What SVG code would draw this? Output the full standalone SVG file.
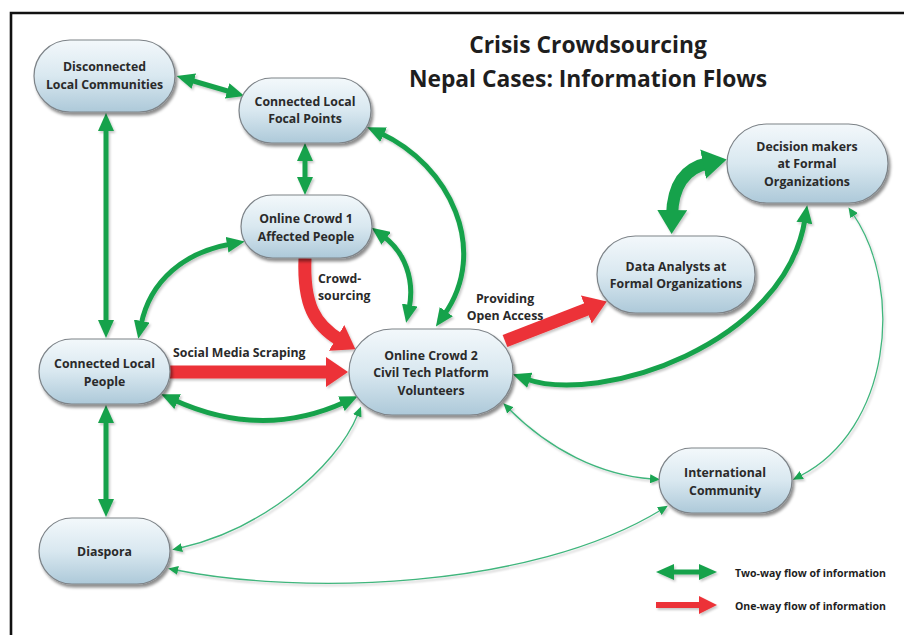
<svg xmlns="http://www.w3.org/2000/svg" width="904" height="635" viewBox="0 0 904 635">
<style>
.node rect{fill:url(#ng);stroke:#7d8388;stroke-width:1.2;filter:url(#sh)}
.node text,.lbl{font-family:"Open Sans","DejaVu Sans",sans-serif;font-weight:bold;font-size:12.3px;fill:#2a2a2a;text-anchor:middle}
.lbl{text-anchor:start}
.title{font-family:"Open Sans","DejaVu Sans",sans-serif;font-weight:bold;font-size:22.8px;fill:#1e1e1e;text-anchor:middle}
.leg{font-family:"Open Sans","DejaVu Sans",sans-serif;font-weight:bold;font-size:10.5px;fill:#1e1e1e}
.g{fill:none;stroke:#17a24c;stroke-width:5;marker-start:url(#gh);marker-end:url(#gh)}
.gb{fill:none;stroke:#17a24c;stroke-width:12;marker-start:url(#gbh);marker-end:url(#gbh)}
.t{fill:none;stroke:#3fb57c;stroke-width:1.3;marker-start:url(#th);marker-end:url(#th)}
.r{fill:none;stroke:#ec3237;stroke-width:13;marker-end:url(#rh)}
#conn{filter:url(#csh)}
</style>
<defs>
<linearGradient id="ng" x1="0" y1="0" x2="0" y2="1">
<stop offset="0" stop-color="#f3f8fb"/>
<stop offset="0.5" stop-color="#d9e8f0"/>
<stop offset="1" stop-color="#adc9d9"/>
</linearGradient>
<filter id="sh" x="-20%" y="-20%" width="140%" height="150%">
<feDropShadow dx="2" dy="3" stdDeviation="1.8" flood-color="#000" flood-opacity="0.45"/>
</filter>
<filter id="csh" x="-10%" y="-10%" width="120%" height="120%">
<feDropShadow dx="1.5" dy="2" stdDeviation="1.2" flood-color="#000" flood-opacity="0.22"/>
</filter>
<marker id="gh" markerUnits="userSpaceOnUse" markerWidth="18" markerHeight="16" refX="4" refY="8" orient="auto-start-reverse" viewBox="0 0 18 16"><path d="M0,0 L18,8 L0,16 z" fill="#17a24c"/></marker>
<marker id="gbh" markerUnits="userSpaceOnUse" markerWidth="24" markerHeight="30" refX="6" refY="15" orient="auto-start-reverse" viewBox="0 0 24 30"><path d="M0,0 L24,15 L0,30 z" fill="#17a24c"/></marker>
<marker id="th" markerUnits="userSpaceOnUse" markerWidth="10" markerHeight="9" refX="2" refY="4.5" orient="auto-start-reverse" viewBox="0 0 10 9"><path d="M0,0 L10,4.5 L0,9 z" fill="#1aa552"/></marker>
<marker id="rh" markerUnits="userSpaceOnUse" markerWidth="22" markerHeight="30" refX="4" refY="15" orient="auto" viewBox="0 0 22 30"><path d="M0,0 L22,15 L0,30 z" fill="#ec3237"/></marker>
<marker id="rsh" markerUnits="userSpaceOnUse" markerWidth="18" markerHeight="18" refX="4" refY="9" orient="auto" viewBox="0 0 18 18"><path d="M0,0 L18,9 L0,18 z" fill="#ec3237"/></marker>
</defs>
<rect width="904" height="635" fill="#fff"/>
<path d="M11,635 L11,13 L904,13" fill="none" stroke="#111" stroke-width="2.6"/>

<text class="title" x="588" y="53">Crisis Crowdsourcing</text>
<text class="title" x="588" y="87">Nepal Cases: Information Flows</text>

<g id="conn">
<path class="g" d="M190,80 L231,92"/>
<path class="g" d="M305,157 L305,181"/>
<path class="g" d="M106,127 L106,324"/>
<path class="g" d="M106,419 L106,503"/>
<path class="g" d="M231,244 C185,252 150,280 141,325"/>
<path class="g" d="M383,236 C405,252 415,280 409,309"/>
<path class="g" d="M380,133 C450,165 490,250 444,315"/>
<path class="g" d="M174,400 Q262,440 345,402"/>
<path class="g" d="M526,379 C600,405 785,345 805,219"/>
<path class="gb" d="M709,163 Q673,170 672,216"/>
<path class="r" d="M170,372 L330,372"/>
<path class="r" d="M305,258 C303,305 315,325 340,340" stroke-width="14"/>
<path class="r" d="M505,341 L590,308" stroke-width="14"/>
<path class="t" d="M180,548 C260,530 335,470 358,414"/>
<path class="t" d="M176,570 C300,595 530,590 661,510"/>
<path class="t" d="M509,409 C550,450 600,475 652,479"/>
<path class="t" d="M853,214 C905,290 890,430 800,476"/>
<path class="g" d="M670,572 L703,572" stroke-width="6"/>
<path d="M656,605 L703,605" fill="none" stroke="#ec3237" stroke-width="6" marker-end="url(#rsh)"/>
</g>

<text class="lbl" x="318" y="283">Crowd-</text>
<text class="lbl" x="318" y="300">sourcing</text>
<text class="lbl" x="173" y="357">Social Media Scraping</text>
<text class="lbl" x="505" y="303" style="text-anchor:middle">Providing</text>
<text class="lbl" x="505" y="320" style="text-anchor:middle">Open Access</text>
<text class="leg" x="735" y="577">Two-way flow of information</text>
<text class="leg" x="735" y="610">One-way flow of information</text>

<g id="n-disconnected" class="node"><rect x="34" y="40" width="141" height="72" rx="36"/><text x="104.5" y="71">Disconnected</text><text x="104.5" y="89">Local Communities</text></g>
<g id="n-focal" class="node"><rect x="239" y="78" width="132" height="65" rx="32.5"/><text x="305" y="106">Connected Local</text><text x="305" y="123">Focal Points</text></g>
<g id="n-oc1" class="node"><rect x="241" y="195" width="131" height="63" rx="31.5"/><text x="306" y="223">Online Crowd 1</text><text x="306" y="241">Affected People</text></g>
<g id="n-clp" class="node"><rect x="39" y="339" width="131" height="65" rx="32.5"/><text x="104.5" y="368">Connected Local</text><text x="104.5" y="386">People</text></g>
<g id="n-oc2" class="node"><rect x="349" y="329" width="164" height="86" rx="43"/><text x="431" y="360">Online Crowd 2</text><text x="431" y="377">Civil Tech Platform</text><text x="431" y="395">Volunteers</text></g>
<g id="n-da" class="node"><rect x="597" y="236" width="158" height="77" rx="38.5"/><text x="676" y="271">Data Analysts at</text><text x="676" y="288">Formal Organizations</text></g>
<g id="n-dm" class="node"><rect x="727" y="124" width="161" height="79" rx="39.5"/><text x="807" y="151">Decision makers</text><text x="807" y="168">at Formal</text><text x="807" y="186">Organizations</text></g>
<g id="n-ic" class="node"><rect x="659" y="448" width="133" height="65" rx="32.5"/><text x="725" y="477">International</text><text x="725" y="495">Community</text></g>
<g id="n-diaspora" class="node"><rect x="39" y="518" width="131" height="66" rx="33"/><text x="104.5" y="556">Diaspora</text></g>
</svg>
